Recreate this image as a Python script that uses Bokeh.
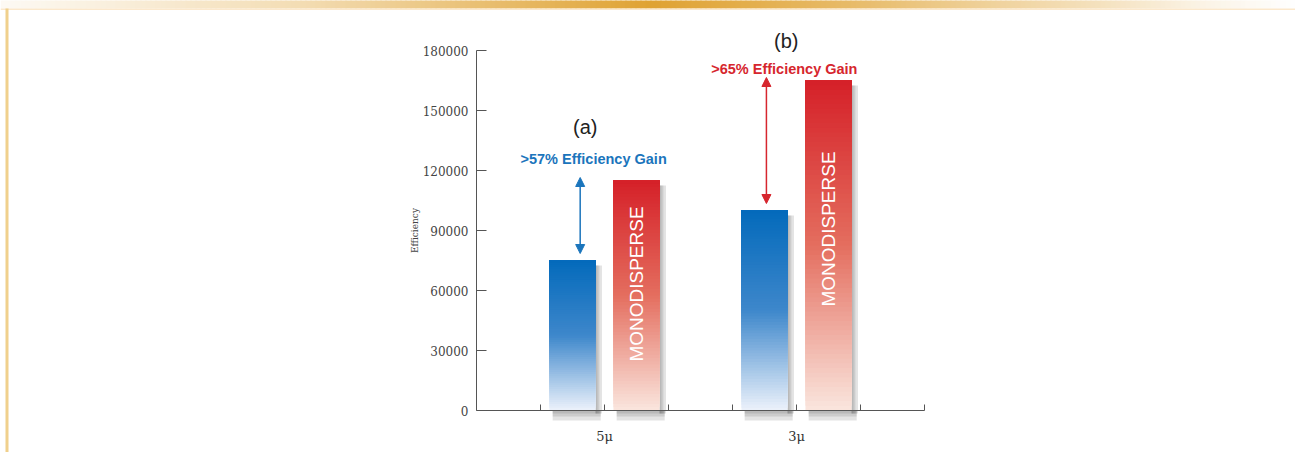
import numpy as np
from bokeh.plotting import figure
from bokeh.models import (ColumnDataSource, Range1d, FixedTicker, Label, Arrow,
                          NormalHead, NumeralTickFormatter)
from bokeh.embed import file_html
from bokeh.resources import INLINE

# ---------------- data ----------------
categories = ["5\u03bc", "3\u03bc"]
standard = [75000, 100000]
monodisperse = [115000, 165000]
panel_labels = ["(a)", "(b)"]
gain_labels = [">57% Efficiency Gain", ">65% Efficiency Gain"]
bar_text = "MONODISPERSE"
y_ticks = [0, 30000, 60000, 90000, 120000, 150000, 180000]
y_title = "Efficiency"

# ---------------- layout ----------------
W, H = 1295, 452
X0, PXX = 476, 64.0        # page x of x=0, px per x unit
Y0, PXY = 410, 1 / 500.0   # page y of value 0, px per value unit
x_lo, x_hi = -X0 / PXX, (W - X0) / PXX
y_lo, y_hi = -(H - Y0) / PXY, Y0 / PXY

p = figure(width=W, height=H, output_backend="svg", toolbar_location=None,
           x_range=Range1d(x_lo, x_hi), y_range=Range1d(y_lo, y_hi),
           min_border_left=0, min_border_right=0,
           min_border_top=0, min_border_bottom=0)
p.outline_line_color = None
p.xgrid.visible = False
p.ygrid.visible = False
p.background_fill_color = "white"
p.border_fill_color = "white"

# page frame decoration (golden band on top, bar on the left)
band_top = y_hi + 1000
band_bot = y_hi - 8 / PXY
prof_px = [0, 150, 300, 450, 650, 850, 1000, 1100, 1200, 1295]
prof_a = [0.05, 0.2, 0.35, 0.6, 0.95, 0.7, 0.45, 0.3, 0.12, 0.0]
seg = 5
bl, br, bc = [], [], []
base = np.array([255, 255, 255]); gold = np.array([222, 158, 40])
for px in range(0, W, seg):
    a = np.interp(px + seg / 2, prof_px, prof_a)
    c = (base + (gold - base) * a).astype(int)
    bl.append(x_lo + px / PXX); br.append(x_lo + (px + seg + 1) / PXX)
    bc.append("#%02x%02x%02x" % tuple(c))
p.quad(left=bl, right=br, bottom=band_bot, top=band_top, fill_color=bc, line_color=None)
p.quad(left=x_lo, right=x_hi, bottom=band_bot - 1.5 / PXY, top=band_bot,
       fill_color="#fbe8cc", line_color=None)
p.quad(left=x_lo + 5 / PXX, right=x_lo + 8 / PXX, bottom=y_lo, top=band_bot,
       fill_color="#f0d08c", line_color=None)

group_center = [2 + 3 * i for i in range(len(categories))]
bar_w = 0.72
blue_x = [c - 0.5 for c in group_center]
red_x = [c + 0.5 for c in group_center]

def mix(stops, f):
    for (f0, c0), (f1, c1) in zip(stops[:-1], stops[1:]):
        if f0 <= f <= f1:
            t = (f - f0) / (f1 - f0)
            c = [int(round(a + (b - a) * t)) for a, b in zip(c0, c1)]
            return "#%02x%02x%02x" % tuple(c)
    return "#%02x%02x%02x" % tuple(stops[-1][1])

blue_stops = [(0.0, (236, 242, 251)), (0.5, (62, 135, 203)), (1.0, (3, 106, 187))]
red_stops = [(0.0, (250, 230, 222)), (0.5, (228, 110, 95)), (1.0, (213, 32, 40))]

N = 70
def gradient_bars(xs, vals, stops):
    L, R, B, T, C = [], [], [], [], []
    for x, v in zip(xs, vals):
        for k in range(N):
            L.append(x - bar_w / 2); R.append(x + bar_w / 2)
            B.append(v * k / N); T.append(v)
            C.append(mix(stops, (k + 0.5) / N))
    return ColumnDataSource(dict(left=L, right=R, bottom=B, top=T, color=C))

def shadow(xs, vals):
    L, R, B, T = [], [], [], []
    for x, v in zip(xs, vals):
        for wdt in (0.03, 0.06, 0.1):
            L.append(x + bar_w / 2); R.append(x + bar_w / 2 + wdt)
            B.append(-3 / PXY); T.append(v - 2500)
        for dh in (1500, 3000, 5000):
            L.append(x - bar_w / 2 + 0.05); R.append(x + bar_w / 2 + 0.08)
            B.append(-dh); T.append(0)
    return ColumnDataSource(dict(left=L, right=R, bottom=B, top=T))

for xs, vals in ((blue_x, standard), (red_x, monodisperse)):
    p.quad(left="left", right="right", bottom="bottom", top="top",
           source=shadow(xs, vals), fill_color="#666666", fill_alpha=0.18,
           line_color=None)

p.quad(left="left", right="right", bottom="bottom", top="top", fill_color="color",
       line_color=None, source=gradient_bars(blue_x, standard, blue_stops))
p.quad(left="left", right="right", bottom="bottom", top="top", fill_color="color",
       line_color=None, source=gradient_bars(red_x, monodisperse, red_stops))

# ---------------- axes ----------------
yax = p.yaxis[0]
yax.fixed_location = 0
yax.bounds = (y_ticks[0], y_ticks[-1])
yax.ticker = FixedTicker(ticks=y_ticks)
yax.formatter = NumeralTickFormatter(format="0")
yax.minor_tick_line_color = None
yax.major_tick_in = 10
yax.major_tick_out = 0
yax.axis_line_color = "#555555"
yax.major_tick_line_color = "#555555"
yax.major_label_text_font = "DejaVu Serif"
yax.major_label_text_font_size = "12px"
yax.major_label_text_color = "#444444"
yax.major_label_standoff = 8
yax.axis_label = y_title
yax.axis_label_text_font = "DejaVu Serif"
yax.axis_label_text_font_size = "9px"
yax.axis_label_text_font_style = "normal"
yax.axis_label_text_color = "#444444"
yax.axis_label_standoff = 0

x_ticks = list(range(1, 8))
xax = p.xaxis[0]
xax.fixed_location = 0
xax.bounds = (0, x_ticks[-1])
xax.ticker = FixedTicker(ticks=x_ticks)
overrides = {t: "" for t in x_ticks}
for c, name in zip(group_center, categories):
    overrides[c] = name
xax.major_label_overrides = overrides
xax.minor_tick_line_color = None
xax.major_tick_in = 6
xax.major_tick_out = 0
xax.axis_line_color = "#555555"
xax.major_tick_line_color = "#555555"
xax.major_label_text_font = "DejaVu Serif"
xax.major_label_text_font_size = "13px"
xax.major_label_text_color = "#333333"
xax.major_label_standoff = 18

# ---------------- annotations ----------------
gain_colors = ["#1b75bc", "#d6262e"]
arrow_dx = [0.12, 0.03]
text_dx = [0.33, 0.31]
text_dy = [11000, 6000]
panel_pos = [(0.20, 27000), (0.34, 20000)]
for i in range(len(categories)):
    col = gain_colors[i]
    ax_x = blue_x[i] + arrow_dx[i]
    p.add_layout(Arrow(x_start=ax_x, y_start=standard[i] + 3500,
                       x_end=ax_x, y_end=monodisperse[i] + 1500,
                       line_color=col, line_width=1.5,
                       start=NormalHead(size=9, fill_color=col, line_color=col),
                       end=NormalHead(size=9, fill_color=col, line_color=col)))
    p.add_layout(Label(x=blue_x[i] + text_dx[i], y=monodisperse[i] + text_dy[i],
                       text=gain_labels[i], text_color=col, text_font="Liberation Sans",
                       text_font_size="14.5px", text_font_style="bold",
                       text_align="center", text_baseline="middle"))
    p.add_layout(Label(x=blue_x[i] + panel_pos[i][0], y=monodisperse[i] + panel_pos[i][1],
                       text=panel_labels[i], text_color="#222222",
                       text_font="Liberation Sans", text_font_size="20px",
                       text_align="center", text_baseline="middle"))
    p.add_layout(Label(x=red_x[i], y=monodisperse[i] * 0.55, text=bar_text,
                       angle=np.pi / 2, text_color="white", text_font="Liberation Sans",
                       text_font_size="19px", text_align="center",
                       text_baseline="middle"))

open("out.html", "w").write(file_html(p, INLINE))
